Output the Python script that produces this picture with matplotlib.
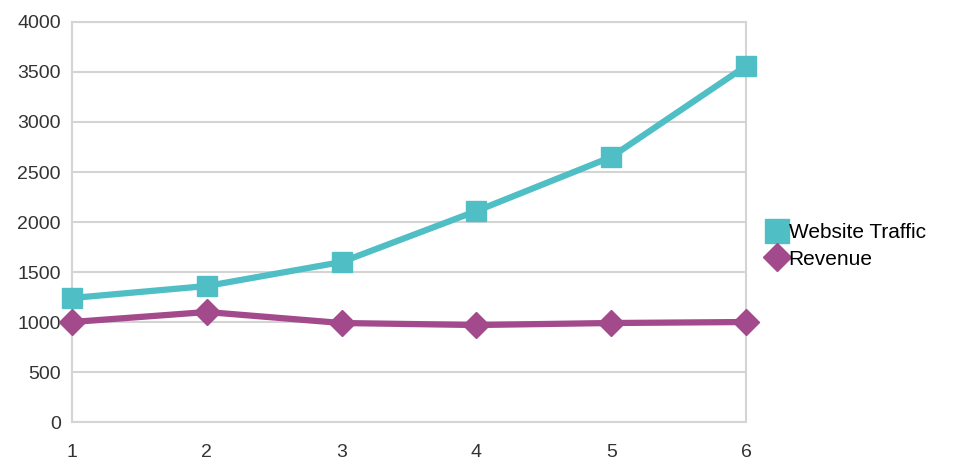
import matplotlib.pyplot as plt
from matplotlib.lines import Line2D

periods = [1, 2, 3, 4, 5, 6]
traffic = [1240, 1360, 1600, 2110, 2650, 3560]
revenue = [1000, 1100, 990, 970, 990, 1000]
yticks = [0, 500, 1000, 1500, 2000, 2500, 3000, 3500, 4000]

plt.rcParams['font.family'] = ['Liberation Sans', 'DejaVu Sans']

teal = '#4fbfc5'
plum = '#a34a8c'
grid = '#d4d4d4'

fig = plt.figure(figsize=(9.64, 4.76), dpi=100)
ax = fig.add_axes([0.0747, 0.1134, 0.6992, 0.8404])

ax.plot(periods, traffic, color=teal, lw=4.5, marker='s', ms=15,
        mec=teal, clip_on=False, zorder=3)
ax.plot(periods, revenue, color=plum, lw=4.5, marker='D', ms=13,
        mec=plum, clip_on=False, zorder=3)

ax.set_xlim(1, 6)
ax.set_ylim(0, 4000)
ax.set_xticks(periods)
ax.set_yticks(yticks)
ax.grid(axis='y', color=grid, lw=1.5)
ax.set_axisbelow(True)
for s in ax.spines.values():
    s.set_color(grid)
    s.set_linewidth(1.5)
ax.tick_params(length=0, labelsize=14, colors='#333333')
ax.tick_params(axis='y', pad=8)
ax.tick_params(axis='x', pad=16)

handles = [Line2D([], [], ls='none', marker='s', ms=17, color=teal),
           Line2D([], [], ls='none', marker='D', ms=14, color=plum)]
ax.legend(handles, ['Website Traffic', 'Revenue'], loc='center left',
          bbox_to_anchor=(1.0, 0.44), frameon=False, fontsize=15,
          handlelength=1.0, handletextpad=0.05, labelspacing=0.35,
          borderaxespad=0.6)

fig.savefig('out.png', dpi=100)
